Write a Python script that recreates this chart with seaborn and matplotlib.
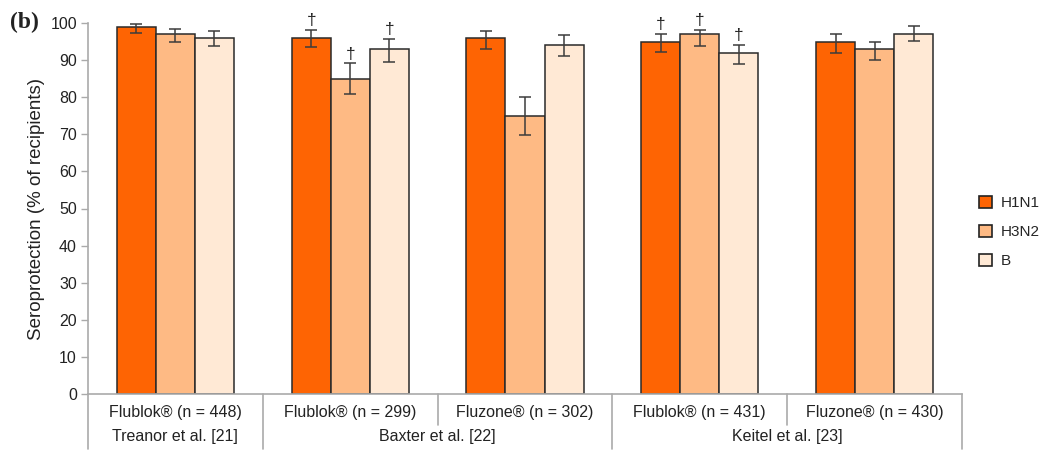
import matplotlib
matplotlib.use("Agg")
import matplotlib.pyplot as plt
import matplotlib.transforms as mtransforms
from matplotlib.patches import Patch
import seaborn as sns
import pandas as pd

# ---- data ----
groups = ["Flublok® (n = 448)", "Flublok® (n = 299)", "Fluzone® (n = 302)",
          "Flublok® (n = 431)", "Fluzone® (n = 430)"]
group_ids = ["g0", "g1", "g2", "g3", "g4"]
studies = ["Treanor et al. [21]", "Baxter et al. [22]", "Keitel et al. [23]"]
study_span = [(0, 0), (1, 2), (3, 4)]
strains = ["H1N1", "H3N2", "B"]
h1n1 = [99, 96, 96, 95, 95]
h1n1_lo = [97.2, 93.5, 92.9, 92.1, 92.0]
h1n1_hi = [99.7, 98.1, 97.8, 97.0, 97.0]
h3n2 = [97, 85, 75, 97, 93]
h3n2_lo = [94.8, 80.8, 69.9, 93.9, 90.0]
h3n2_hi = [98.4, 89.1, 80.0, 98.1, 95.0]
b_vals = [96, 93, 94, 92, 97]
b_lo = [93.9, 89.5, 91.0, 89.0, 95.1]
b_hi = [97.9, 95.7, 96.7, 94.1, 99.1]
dagger_groups = [1, 3]  # groups with significance markers
colors = ["#FE6403", "#FEBA84", "#FFE9D5"]

values = {"H1N1": h1n1, "H3N2": h3n2, "B": b_vals}
lows = {"H1N1": h1n1_lo, "H3N2": h3n2_lo, "B": b_lo}
highs = {"H1N1": h1n1_hi, "H3N2": h3n2_hi, "B": b_hi}

rows = []
for s in strains:
    for gid, v in zip(group_ids, values[s]):
        rows.append({"group": gid, "strain": s, "value": v})
df = pd.DataFrame(rows)

sns.set_theme(style="white")
plt.rcParams["font.family"] = ["Liberation Sans", "DejaVu Sans"]

fig = plt.figure(figsize=(10.47, 4.5), dpi=100)
ax = fig.add_axes([88 / 1047, 1 - 394 / 450, (962 - 88) / 1047, (394 - 23) / 450])

sns.barplot(data=df, x="group", y="value", hue="strain", order=group_ids,
            hue_order=strains, palette=colors, width=0.67, errorbar=None,
            edgecolor="#2a2a2a", linewidth=1.1, saturation=1, ax=ax, legend=False)

for s, cont in zip(strains, ax.containers):
    for i, bar in enumerate(cont):
        xc = bar.get_x() + bar.get_width() / 2
        v = values[s][i]
        lo, hi = lows[s][i], highs[s][i]
        ax.errorbar(xc, v, yerr=[[v - lo], [hi - v]], fmt="none",
                    ecolor="#3c3c3c", elinewidth=1.1, capsize=4, capthick=1.1,
                    zorder=5)
        if i in dagger_groups:
            ax.text(xc, hi + 0.5, "†", ha="center", va="bottom",
                    fontsize=12.5, color="#222222", zorder=6)

ax.set_ylim(0, 100)
ax.set_xlim(-0.5, 4.5)
ax.set_yticks(range(0, 101, 10))
ax.tick_params(axis="y", which="major", left=True, length=5, width=1,
               color="#aaaaaa", labelsize=11.5, pad=3, labelcolor="#222222")
ax.set_xticks([])
ax.set_xlabel("")
ax.set_ylabel("Seroprotection (% of recipients)", fontsize=13.5,
              color="#222222", labelpad=4)
for sp in ["top", "right"]:
    ax.spines[sp].set_visible(False)
for sp in ["left", "bottom"]:
    ax.spines[sp].set_color("#aaaaaa")
    ax.spines[sp].set_linewidth(1.2)

trans = mtransforms.blended_transform_factory(ax.transData, ax.transAxes)
full_len = -55 / 371
short_len = -31 / 371
row1_y = -18 / 371
row2_y = -43 / 371

# separators
study_bounds = set()
for a, b in study_span:
    study_bounds.add(a - 0.5)
    study_bounds.add(b + 0.5)
for k in range(6):
    xb = k - 0.5
    yb = full_len if xb in study_bounds else short_len
    ax.plot([xb, xb], [0, yb], transform=trans, color="#aaaaaa", lw=1.2,
            clip_on=False)

for i, g in enumerate(groups):
    ax.text(i, row1_y, g, transform=trans, ha="center", va="center",
            fontsize=11.5, color="#222222")
for st, (a, b) in zip(studies, study_span):
    ax.text((a + b) / 2, row2_y, st, transform=trans, ha="center",
            va="center", fontsize=11.5, color="#222222")

handles = [Patch(facecolor=c, edgecolor="#222222", linewidth=1.2) for c in colors]
fig.legend(handles, strains, loc="center left",
           bbox_to_anchor=(979 / 1047, 1 - 232 / 450), frameon=False,
           fontsize=11, handlelength=0.85, handleheight=0.85,
           labelspacing=0.95, handletextpad=0.55, borderaxespad=0,
           borderpad=0)

fig.text(10 / 1047, 1 - 22 / 450, "(b)", fontsize=17, fontweight="bold",
         family=["Liberation Serif", "DejaVu Serif"], va="center", ha="left",
         color="#222222")

fig.savefig("out.png", dpi=100)
